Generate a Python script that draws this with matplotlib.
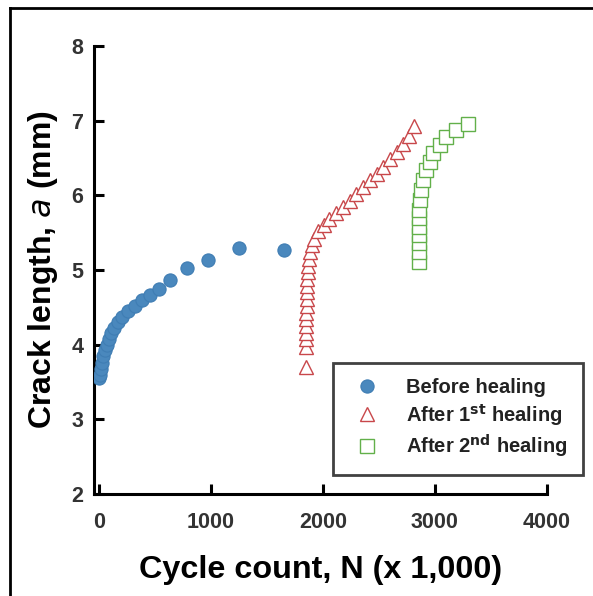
import matplotlib.pyplot as plt
from matplotlib.lines import Line2D

plt.rcParams['font.family'] = ['Liberation Sans', 'DejaVu Sans']

# Before healing
n_before = [0, 10, 20, 30, 40, 55, 70, 90, 110, 140, 170, 210, 260, 320, 390,
            460, 540, 640, 790, 975, 1250, 1655]
a_before = [3.55, 3.60, 3.68, 3.76, 3.85, 3.93, 4.00, 4.08, 4.15, 4.22, 4.30,
            4.37, 4.45, 4.52, 4.60, 4.67, 4.75, 4.86, 5.03, 5.14, 5.29, 5.27]

# After 1st healing
n_first = [1850, 1850, 1850, 1850, 1850, 1852, 1852, 1855, 1855, 1858, 1860,
           1862, 1866, 1870, 1875, 1885, 1900, 1920, 1960, 2010, 2060, 2120,
           2180, 2240, 2300, 2360, 2420, 2480, 2540, 2600, 2660, 2720, 2770, 2815]
a_first = [3.70, 3.97, 4.07, 4.16, 4.25, 4.34, 4.43, 4.52, 4.61, 4.70, 4.79,
           4.88, 4.97, 5.06, 5.15, 5.24, 5.33, 5.42, 5.52, 5.60, 5.68, 5.76,
           5.84, 5.93, 6.02, 6.11, 6.20, 6.29, 6.38, 6.48, 6.58, 6.68, 6.80, 6.93]

# After 2nd healing
n_second = [2860, 2860, 2860, 2860, 2860, 2860, 2860, 2866, 2881, 2896, 2926,
            2955, 2985, 3045, 3104, 3193, 3297]
a_second = [5.11, 5.24, 5.36, 5.47, 5.58, 5.69, 5.80, 5.94, 6.07, 6.20, 6.34,
            6.45, 6.56, 6.67, 6.78, 6.87, 6.96]

x_ticks = [0, 1000, 2000, 3000, 4000]
y_ticks = [2, 3, 4, 5, 6, 7, 8]

fig = plt.figure(figsize=(5.93, 5.96), dpi=100)
ax = fig.add_axes([0.159, 0.171, 0.763, 0.752])

ax.plot(n_before, a_before, 'o', ms=9.5, color='#4a88bd', mec='#3f7db3',
        mew=0.8, label='Before healing', zorder=3)
ax.plot(n_first, a_first, '^', ms=10, mfc='white', mec='#c8474a', mew=1.0,
        label='After 1$^{\\mathbf{st}}$ healing', zorder=3)
ax.plot(n_second, a_second, 's', ms=9.5, mfc='white', mec='#62b04a', mew=1.0,
        label='After 2$^{\\mathbf{nd}}$ healing', zorder=3)

ax.set_xlim(-40, 4000)
ax.set_ylim(2, 8)
ax.set_xticks(x_ticks)
ax.set_yticks(y_ticks)

for s in ['top', 'right']:
    ax.spines[s].set_visible(False)
for s in ['left', 'bottom']:
    ax.spines[s].set_linewidth(2.2)

ax.tick_params(axis='both', direction='in', length=7, width=2.2,
               labelsize=15.5, labelcolor='#333333')
ax.tick_params(axis='x', pad=13)
ax.tick_params(axis='y', pad=8)
for lab in ax.get_xticklabels() + ax.get_yticklabels():
    lab.set_fontweight('bold')

ax.set_xlabel('Cycle count, N (x 1,000)', fontsize=23.3, fontweight='bold',
              labelpad=16)
ax.set_ylabel('Crack length, $\\mathbf{\\mathit{a}}$ (mm)', fontsize=23,
              fontweight='bold', labelpad=8)

leg = ax.legend(loc='lower right', bbox_to_anchor=(0.983, 0.203),
                bbox_transform=fig.transFigure,
                frameon=True, fancybox=False, fontsize=14.5,
                handletextpad=1.0, borderpad=0.75, labelspacing=0.25,
                borderaxespad=0, handlelength=1.9)
leg.get_frame().set_edgecolor('#111111')
leg.get_frame().set_linewidth(2.0)
for t in leg.get_texts():
    t.set_fontweight('bold')
    t.set_color('#222222')

# outer frame of the picture
fig.add_artist(Line2D([0.017, 0.017], [0.0, 0.987], color='black', lw=2,
                      transform=fig.transFigure))
fig.add_artist(Line2D([0.017, 1.0], [0.987, 0.987], color='black', lw=2,
                      transform=fig.transFigure))

fig.savefig('out.png', dpi=100)
